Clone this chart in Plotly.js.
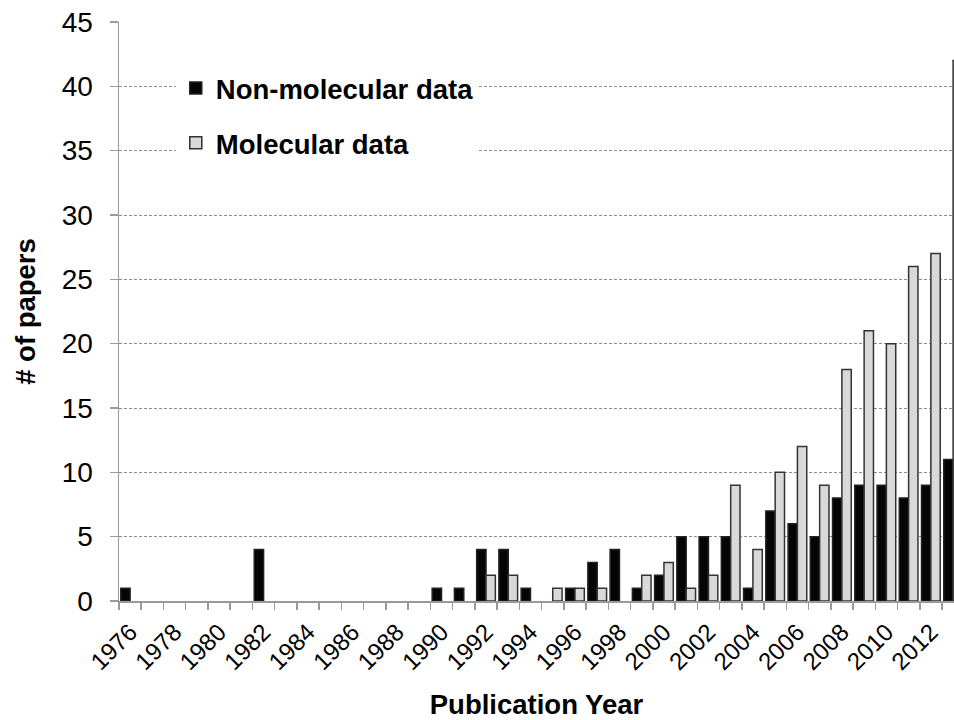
<!DOCTYPE html>
<html>
<head>
<meta charset="utf-8">
<script src="https://cdn.plot.ly/plotly-3.0.1.min.js"></script>
<style>html,body{margin:0;padding:0;background:#fff;}#chart{width:954px;height:720px;}</style>
</head>
<body>
<div id="chart"></div>
<script>
var years = [1976,1977,1978,1979,1980,1981,1982,1983,1984,1985,1986,1987,1988,1989,1990,1991,1992,1993,1994,1995,1996,1997,1998,1999,2000,2001,2002,2003,2004,2005,2006,2007,2008,2009,2010,2011,2012,2013];
var nonMolecular = [1,0,0,0,0,0,4,0,0,0,0,0,0,0,1,1,4,4,1,0,1,3,4,1,2,5,5,5,1,7,6,5,8,9,9,8,9,11];
var molecular =    [0,0,0,0,0,0,0,0,0,0,0,0,0,0,0,0,2,2,0,1,1,1,0,2,3,1,2,9,4,10,12,9,18,21,20,26,27,42];
var tickYears = [1976,1978,1980,1982,1984,1986,1988,1990,1992,1994,1996,1998,2000,2002,2004,2006,2008,2010,2012];
var tickLabels = ['1976','1978','1980','1982','1984','1986','1988','1990','1992','1994','1996','1998','2000','2002','2004','2006','2008','2010','2012'];
var seriesNames = ['Non-molecular data', 'Molecular data'];

var FONT = 'Liberation Sans, Arial, sans-serif';

// zero counts are drawn as no bar at all (as in the original)
function hideZeros(arr) { return arr.map(function(v){ return v === 0 ? null : v; }); }

var traces = [
  {type:'bar', x: years, y: hideZeros(nonMolecular), name: seriesNames[0], legendgroup:'a',
   marker:{color:'#050505', line:{color:'#222', width:1.5}}},
  {type:'bar', x: years, y: hideZeros(molecular), name: seriesNames[1], legendgroup:'b',
   marker:{color:'#d9d9d9', line:{color:'#333', width:1.5}}}
];

var layout = {
  width: 954, height: 720,
  margin: {l:119, r:0, t:22, b:119},
  paper_bgcolor:'#fff', plot_bgcolor:'#fff',
  font: {family: FONT, color:'#000'},
  barmode:'group', bargap:0.16, bargroupgap:0,
  showlegend:true,
  legend: {x:0.068, xanchor:'left', y:0.928, yanchor:'top', bgcolor:'#fff',
           traceorder:'grouped', tracegroupgap:16,
           font:{family:FONT, size:27.5, color:'#000', weight:'bold'}},
  xaxis: {
    range:[1975.5, 2013.04], autorange:false,
    tickmode:'array', tickvals: tickYears, ticktext: tickLabels,
    tickangle:-45, ticks:'', ticklabelstandoff:6,
    tickfont:{family:FONT, size:24, color:'#000'},
    showgrid:false, zeroline:false,
    showline:true, linecolor:'#9a9a9a', linewidth:1.5,
    minor:{tick0:1975.5, dtick:1, ticks:'outside', ticklen:7, tickcolor:'#9a9a9a', tickwidth:1.5, showgrid:false},
    title:{text:'Publication Year', font:{family:FONT, size:27.5, weight:'bold', color:'#000'}, standoff:26},
    fixedrange:true
  },
  yaxis: {
    range:[0,45], autorange:false, dtick:5, tick0:0,
    ticks:'outside', ticklen:8, tickcolor:'#9a9a9a', tickwidth:1.5,
    ticklabelstandoff:11,
    tickfont:{family:FONT, size:28, color:'#000'},
    showgrid:true, gridcolor:'#8c8c8c', gridwidth:1, griddash:'3px,2px',
    zeroline:false, showline:true, linecolor:'#9a9a9a', linewidth:1.5,
    title:{text:'# of papers', font:{family:FONT, size:27.5, weight:'bold', color:'#000'}, standoff:18},
    fixedrange:true
  }
};

Plotly.newPlot('chart', traces, layout, {displayModeBar:false, staticPlot:true});
</script>
</body>
</html>
